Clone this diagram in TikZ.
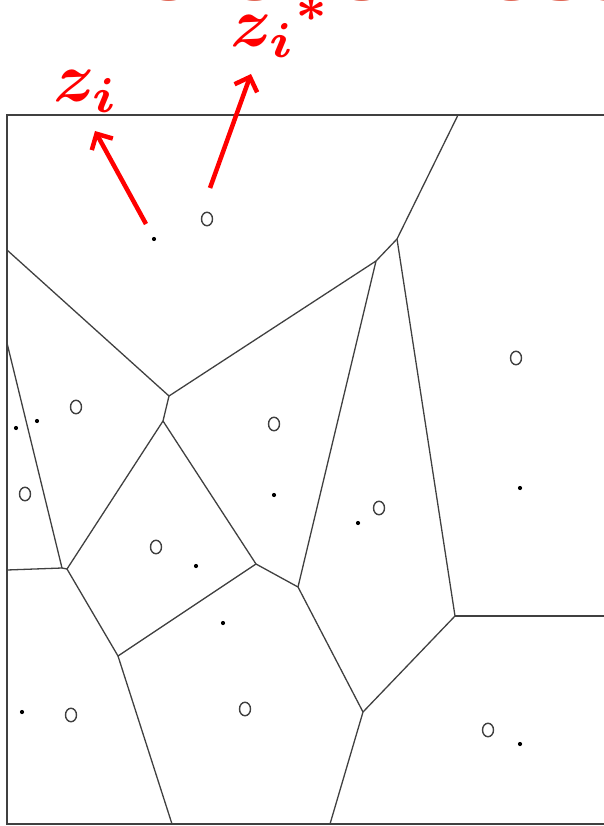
\documentclass[tikz,border=0pt]{standalone}
\usepackage{fontspec}
\newfontfamily\titlefont{Liberation Sans}
\usetikzlibrary{arrows.meta,shapes.geometric}

\definecolor{cellgray}{RGB}{64,64,64}
\definecolor{titlered}{RGB}{222,92,74}
\newcommand{\zbig}[1]{\scalebox{7}{\boldmath$#1$}}
\tikzset{
  celledge/.style={line width=1.3pt,draw=cellgray},
  opensite/.style={ellipse,draw=cellgray,line width=1.4pt,minimum width=11pt,minimum height=13.5pt,inner sep=0pt},
  dotsite/.style={circle,fill=black,minimum size=4.2pt,inner sep=0pt},
  pointer/.style={draw=red,line width=4.5pt,-{Straight Barb[length=12pt,width=24pt]}},
  zlabel/.style={text=red,inner sep=0pt,anchor=base west}
}

\begin{document}
\begin{tikzpicture}[x=1pt,y=-1pt]
\useasboundingbox (0,0) rectangle (603,826);
% title, cut by the top edge
\node[anchor=base west,inner sep=0pt,text=titlered,font=\fontsize{96}{100}\selectfont\titlefont] (title) at (84,1) {Voronoi Tessellation};

% frame
\draw[line width=1.8pt,draw=cellgray] (7,115) rectangle (615,824);

% cell vertices
\coordinate (t1) at (458,115);
\coordinate (v1) at (397,239);
\coordinate (v2) at (376,261);
\coordinate (v3) at (169,396);
\coordinate (v4) at (163,421);
\coordinate (va) at (62,568);
\coordinate (vb) at (67,569);
\coordinate (v6) at (118,656);
\coordinate (v7) at (256,564);
\coordinate (v8) at (298,587);
\coordinate (v9) at (363,712);
\coordinate (v10) at (455,616);
\coordinate (l1) at (7,250);
\coordinate (l2) at (7,343);
\coordinate (l3) at (7,570);
\coordinate (r1) at (615,616);
\coordinate (b1) at (172,824);
\coordinate (b2) at (330,824);

% cell edges
\foreach \a/\b in {t1/v1,v1/v2,v2/v3,l1/v3,v3/v4,v4/vb,l2/va,l3/va,va/vb,vb/v6,
                   v6/v7,v4/v7,v7/v8,v8/v2,v8/v9,v9/v10,v10/r1,v10/v1,v9/b2,v6/b1}
  \draw[celledge] (\a) -- (\b);

% sites
\foreach \n/\p in {c1/{207,219},c2/{76,407},c3/{25,494},c4/{274,424},c5/{379,508},
                   c6/{516,358},c7/{156,547},c8/{71,715},c9/{245,709},c10/{488,730}}
  \node[opensite] (\n) at (\p) {};
\foreach \n/\p in {d1/{154,239},d2/{16,428},d3/{37,421},d4/{274,495},d5/{358,523},
                   d6/{520,488},d7/{196,566},d8/{223,623},d9/{22,712},d10/{520,744}}
  \node[dotsite] (\n) at (\p) {};

% labels and pointers
\node[zlabel] (lz) at (53,102) {\zbig{z_i}};
\node[zlabel] (lzs) at (230,47) {\zbig{z_i{}^{\ast}}};
\coordinate (p1) at (146,224);
\coordinate (q1) at (95,131);
\coordinate (p2) at (210,188);
\coordinate (q2) at (251,74);
\draw[pointer] (p1) -- (q1);
\draw[pointer] (p2) -- (q2);
\end{tikzpicture}
\end{document}
